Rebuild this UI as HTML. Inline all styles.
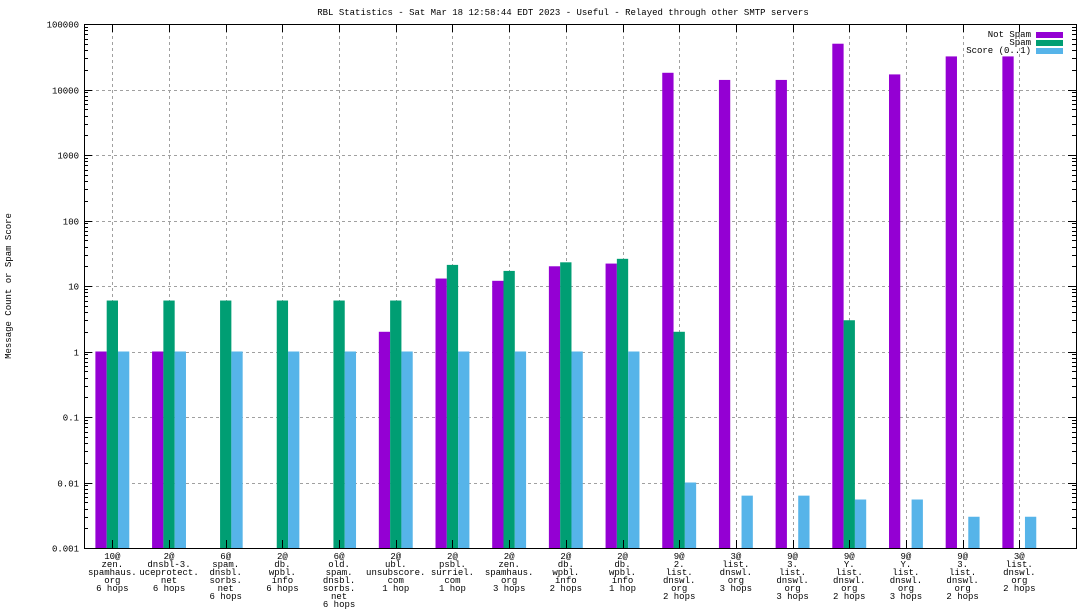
<!DOCTYPE html>
<html><head><meta charset="utf-8">
<style>
html,body{margin:0;padding:0;background:#fff;}
svg{display:block;font-family:"Liberation Mono","DejaVu Sans Mono",monospace;}
</style></head>
<body>
<svg id="chart" width="1088" height="612" viewBox="0 0 1088 612" xmlns="http://www.w3.org/2000/svg">
<text x="563" y="15" font-size="9" text-anchor="middle">RBL Statistics - Sat Mar 18 12:58:44 EDT 2023 - Useful - Relayed through other SMTP servers</text>
<text x="0" y="0" font-size="9" text-anchor="middle" transform="translate(11,286) rotate(-90)">Message Count or Spam Score</text>
<g id="grid"></g>
<g id="bars"></g>
<g id="axes"></g>
<g id="xlabels"></g>
<g id="legend">
<text x="1031" y="37" font-size="9" text-anchor="end">Not Spam</text>
<rect x="1036" y="32" width="27" height="6" fill="#9400d3"/>
<text x="1031" y="45" font-size="9" text-anchor="end">Spam</text>
<rect x="1036" y="40" width="27" height="6" fill="#009e73"/>
<text x="1031" y="53" font-size="9" text-anchor="end">Score (0..1)</text>
<rect x="1036" y="48" width="27" height="6" fill="#56b4e9"/>
</g>
</svg>
<script>
const categories = [
 ["10@","zen.","spamhaus.","org","6 hops"],
 ["2@","dnsbl-3.","uceprotect.","net","6 hops"],
 ["6@","spam.","dnsbl.","sorbs.","net","6 hops"],
 ["2@","db.","wpbl.","info","6 hops"],
 ["6@","old.","spam.","dnsbl.","sorbs.","net","6 hops"],
 ["2@","ubl.","unsubscore.","com","1 hop"],
 ["2@","psbl.","surriel.","com","1 hop"],
 ["2@","zen.","spamhaus.","org","3 hops"],
 ["2@","db.","wpbl.","info","2 hops"],
 ["2@","db.","wpbl.","info","1 hop"],
 ["9@","2.","list.","dnswl.","org","2 hops"],
 ["3@","list.","dnswl.","org","3 hops"],
 ["9@","3.","list.","dnswl.","org","3 hops"],
 ["9@","Y.","list.","dnswl.","org","2 hops"],
 ["9@","Y.","list.","dnswl.","org","3 hops"],
 ["9@","3.","list.","dnswl.","org","2 hops"],
 ["3@","list.","dnswl.","org","2 hops"]
];
const notSpam = [1,1,0,0,0,2,13,12,20,22,18000,14000,14000,50000,17000,32000,32000];
const spam = [6,6,6,6,6,6,21,17,23,26,2,0,0,3,0,0,0];
const score = [1,1,1,1,1,1,1,1,1,1,0.01,0.0063,0.0063,0.0055,0.0055,0.003,0.003];
const yTicks = [0.001,0.01,0.1,1,10,100,1000,10000,100000];
const yTickLabels = ["0.001","0.01","0.1","1","10","100","1000","10000","100000"];

const NS="http://www.w3.org/2000/svg";
const L=84,R=1076,T=24,B=548;
const yMinLog=-3,yMaxLog=5;
function y(v){return B-(Math.log10(v)-yMinLog)/(yMaxLog-yMinLog)*(B-T);}
const slot=(R-L)/17.5;
function x(i){return L+(i+0.5)*slot;}
const bw=11.3;
function mk(tag,attrs,parent){const e=document.createElementNS(NS,tag);for(const k in attrs)e.setAttribute(k,attrs[k]);parent.appendChild(e);return e;}
const grid=document.getElementById('grid'),bars=document.getElementById('bars'),axes=document.getElementById('axes'),xl=document.getElementById('xlabels');

yTicks.forEach((t,i)=>{
 const yy=Math.round(y(t))+0.5;
 if(i>0&&i<yTicks.length-1){const g=mk('line',{x1:L,x2:R,y1:yy,y2:yy,stroke:'#a0a0a0','stroke-dasharray':'3,3','stroke-width':1},grid);
 
 }
 const tl=mk('text',{x:L-5,y:yy+3,'font-size':9,'text-anchor':'end'},axes);tl.textContent=yTickLabels[i];
 
 
 mk('line',{x1:L,x2:L+8,y1:yy,y2:yy,stroke:'#000'},axes);
 mk('line',{x1:R,x2:R-8,y1:yy,y2:yy,stroke:'#000'},axes);
 if(i<yTicks.length-1){for(let m=2;m<10;m++){const my=Math.round(y(t*m))+0.5;
  mk('line',{x1:L,x2:L+4,y1:my,y2:my,stroke:'#000'},axes);
  mk('line',{x1:R,x2:R-4,y1:my,y2:my,stroke:'#000'},axes);}}
});
categories.forEach((c,i)=>{
 const cx=x(i);
 const g=mk('line',{x1:Math.round(cx)+0.5,x2:Math.round(cx)+0.5,y1:T,y2:B,stroke:'#a0a0a0','stroke-dasharray':'3,3'},grid);
 
 
 mk('line',{x1:Math.round(cx)+0.5,x2:Math.round(cx)+0.5,y1:B,y2:B-8,stroke:'#000'},axes);
 mk('line',{x1:Math.round(cx)+0.5,x2:Math.round(cx)+0.5,y1:T,y2:T+8,stroke:'#000'},axes);
 const t=mk('text',{x:cx,y:559,'font-size':9,'text-anchor':'middle'},xl);
 
 
 c.forEach((ln,k)=>{const s=mk('tspan',{x:cx,y:559+k*8},t);s.textContent=ln;});
 [[notSpam,'#9400d3',-1,'bar-not-spam'],[spam,'#009e73',0,'bar-spam'],[score,'#56b4e9',1,'bar-score']].forEach(([arr,col,off,nm])=>{
  const v=arr[i]; if(!(v>0))return;
  const x0=cx+off*bw-bw/2; const yt=y(v);
  const r=mk('rect',{x:x0,y:yt,width:bw,height:B-yt,fill:col},bars);
  
  
 });
});
const fr=mk('rect',{x:L+0.5,y:T+0.5,width:R-L,height:B-T,fill:'none',stroke:'#000'},axes);


</script>
</body></html>
